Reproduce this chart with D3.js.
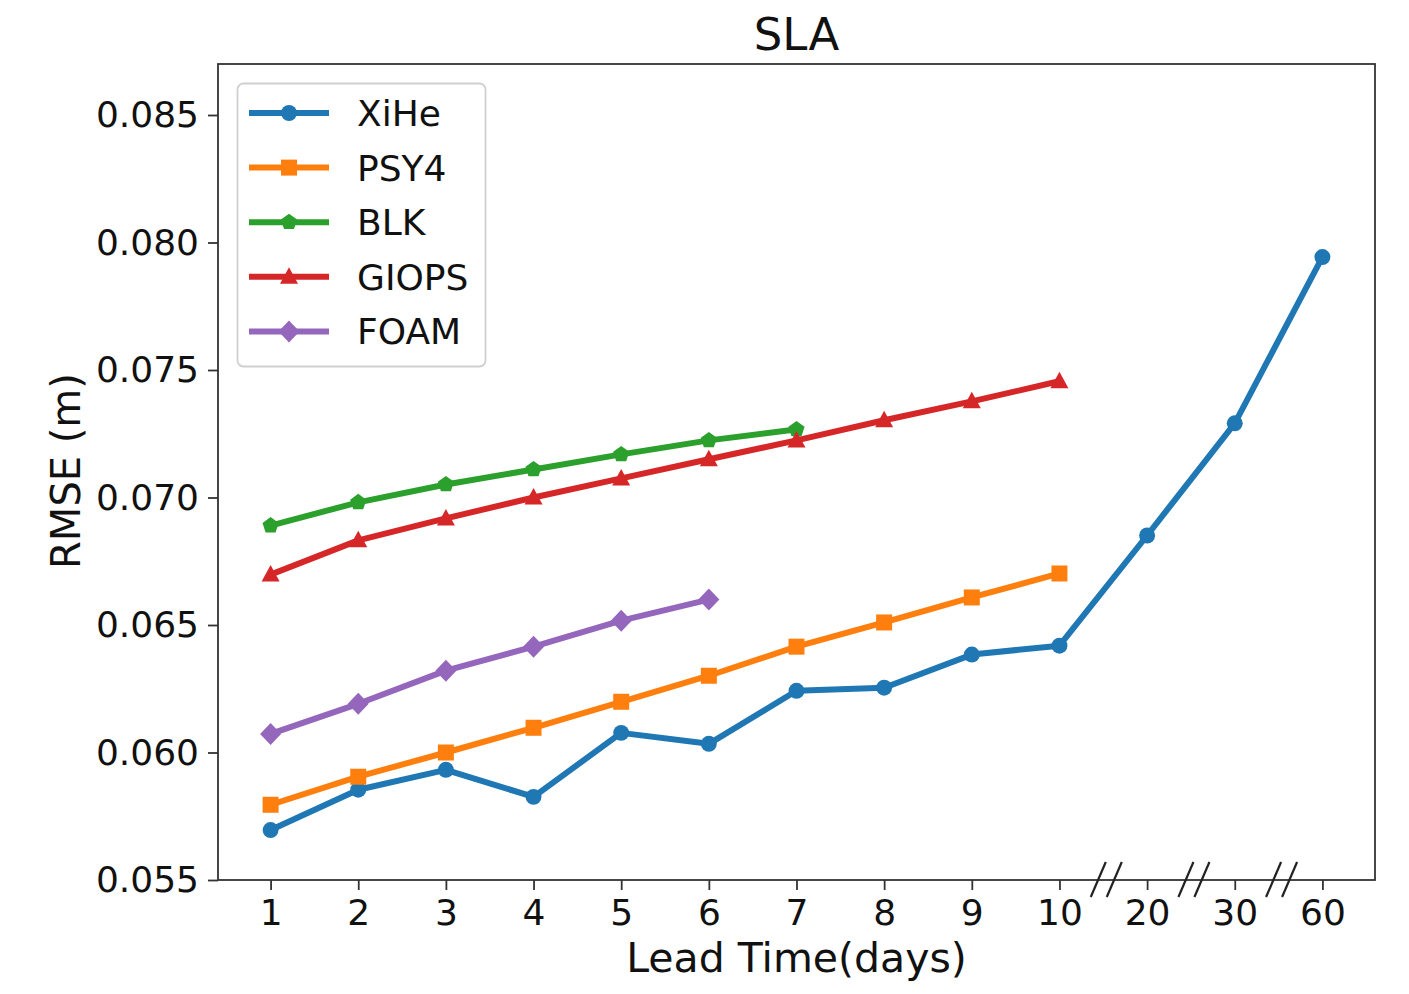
<!DOCTYPE html>
<html><head><meta charset="utf-8">
<script src="https://cdn.jsdelivr.net/npm/d3@7"></script>
<style>body{margin:0;background:#fff;}svg{display:block;font-family:"DejaVu Sans",sans-serif;}</style>
</head><body>
<svg id="chart" width="1409" height="994"></svg>
<script>
const categories = ["1","2","3","4","5","6","7","8","9","10","20","30","60"];
const yTicks = [0.055,0.060,0.065,0.070,0.075,0.080,0.085];
const xihe  = [0.05696,0.05854,0.05932,0.05826,0.06077,0.06034,0.06242,0.06254,0.06384,0.06419,0.06851,0.07291,0.07943];
const psy4  = [0.05795,0.05905,0.06000,0.06097,0.06199,0.06301,0.06415,0.06510,0.06608,0.06702];
const blk   = [0.06890,0.06981,0.07051,0.07110,0.07169,0.07224,0.07267];
const giops = [0.06698,0.06832,0.06918,0.07000,0.07075,0.07150,0.07224,0.07303,0.07377,0.07456];
const foam  = [0.06073,0.06191,0.06321,0.06415,0.06517,0.06600];
const seriesNames = ["XiHe","PSY4","BLK","GIOPS","FOAM"];
const seriesColors = ["#1f77b4","#ff7f0e","#2ca02c","#d62728","#9467bd"];
const seriesMarkers = ["circle","square","pentagon","triangle","diamond"];
const seriesValues = [xihe,psy4,blk,giops,foam];

const svg = d3.select("#chart");
const L=218,R=1375,T=64,B=880;
const x = d3.scaleLinear().domain([-0.6,12.6]).range([L,R]);
const y = d3.scaleLinear().domain([0.055,0.087]).range([B,T]);
const axisColor="#333";

function markerPath(type){
  switch(type){
    case "circle": return d3.symbol(d3.symbolCircle, 200)();
    case "square": return "M-8,-8L8,-8L8,8L-8,8Z";
    case "pentagon": {
      const r=8.5, pts=[];
      for(let i=0;i<5;i++){const a=-Math.PI/2+i*2*Math.PI/5;pts.push([r*Math.cos(a),r*Math.sin(a)]);}
      return "M"+pts.map(p=>p.join(",")).join("L")+"Z";
    }
    case "triangle": return "M0,-9.5L9,7L-9,7Z";
    case "diamond": return "M0,-11L10.5,0L0,11L-10.5,0Z";
  }
}

// series
const g = svg.append("g");
seriesValues.forEach((vals,si)=>{
  const data = vals.map((v,i)=>({i,v}));
  g.append("path").datum(data)
    .attr("fill","none").attr("stroke",seriesColors[si]).attr("stroke-width",6)
    .attr("stroke-linejoin","round").attr("stroke-linecap","square")
    .attr("d",d3.line().x(d=>x(d.i)).y(d=>y(d.v)));
  g.selectAll(null).data(data).enter().append("path")
    .attr("d",markerPath(seriesMarkers[si]))
    .attr("transform",d=>`translate(${x(d.i)},${y(d.v)})`)
    .attr("fill",seriesColors[si]);
});

// frame
svg.append("rect").attr("x",L).attr("y",T).attr("width",R-L).attr("height",B-T)
  .attr("fill","none").attr("stroke",axisColor).attr("stroke-width",1.8);

// x axis
const xAxis = d3.axisBottom(x).tickValues(d3.range(categories.length))
  .tickFormat(i=>categories[i]).tickSize(10).tickPadding(9);
const gx = svg.append("g").attr("transform",`translate(0,${B})`).call(xAxis);
gx.select(".domain").remove();
gx.selectAll("line").attr("stroke",axisColor).attr("stroke-width",1.8);
gx.selectAll("text").attr("font-size",36).attr("fill","#111").attr("font-family","DejaVu Sans");

// y axis
const yAxis = d3.axisLeft(y).tickValues(yTicks).tickFormat(d3.format(".3f")).tickSize(10).tickPadding(9);
const gy = svg.append("g").attr("transform",`translate(${L},0)`).call(yAxis);
gy.select(".domain").remove();
gy.selectAll("line").attr("stroke",axisColor).attr("stroke-width",1.8);
gy.selectAll("text").attr("font-size",36).attr("fill","#111").attr("font-family","DejaVu Sans");

// break marks
[9.5,10.5,11.5].forEach(c=>{
  [-8,8].forEach(off=>{
    const cx = x(c)+off+3;
    svg.append("line").attr("x1",cx-7.5).attr("y1",B+17).attr("x2",cx+7.5).attr("y2",B-18)
      .attr("stroke","#222").attr("stroke-width",2.2);
  });
});

// title & labels
svg.append("text").attr("x",(L+R)/2).attr("y",50).attr("text-anchor","middle")
  .attr("font-size",45).attr("fill","#111").text("SLA");
svg.append("text").attr("x",(L+R)/2).attr("y",972).attr("text-anchor","middle")
  .attr("font-size",41).attr("fill","#111").text("Lead Time(days)");
svg.append("text").attr("transform",`translate(80,471) rotate(-90)`).attr("text-anchor","middle")
  .attr("font-size",40).attr("fill","#111").text("RMSE (m)");

// legend
const lg = svg.append("g");
lg.append("rect").attr("x",237.5).attr("y",83.5).attr("width",248).attr("height",283)
  .attr("rx",6).attr("fill","#fff").attr("fill-opacity",0.8).attr("stroke","#d0d0d0").attr("stroke-width",1.8);
seriesNames.forEach((n,i)=>{
  const yy = 113 + i*54.6;
  lg.append("line").attr("x1",249).attr("x2",329).attr("y1",yy).attr("y2",yy)
    .attr("stroke",seriesColors[i]).attr("stroke-width",6);
  lg.append("path").attr("d",markerPath(seriesMarkers[i])).attr("transform",`translate(289,${yy})`)
    .attr("fill",seriesColors[i]);
  lg.append("text").attr("x",357).attr("y",yy+13).attr("font-size",36).attr("fill","#111").text(n);
});
</script>
</body></html>
